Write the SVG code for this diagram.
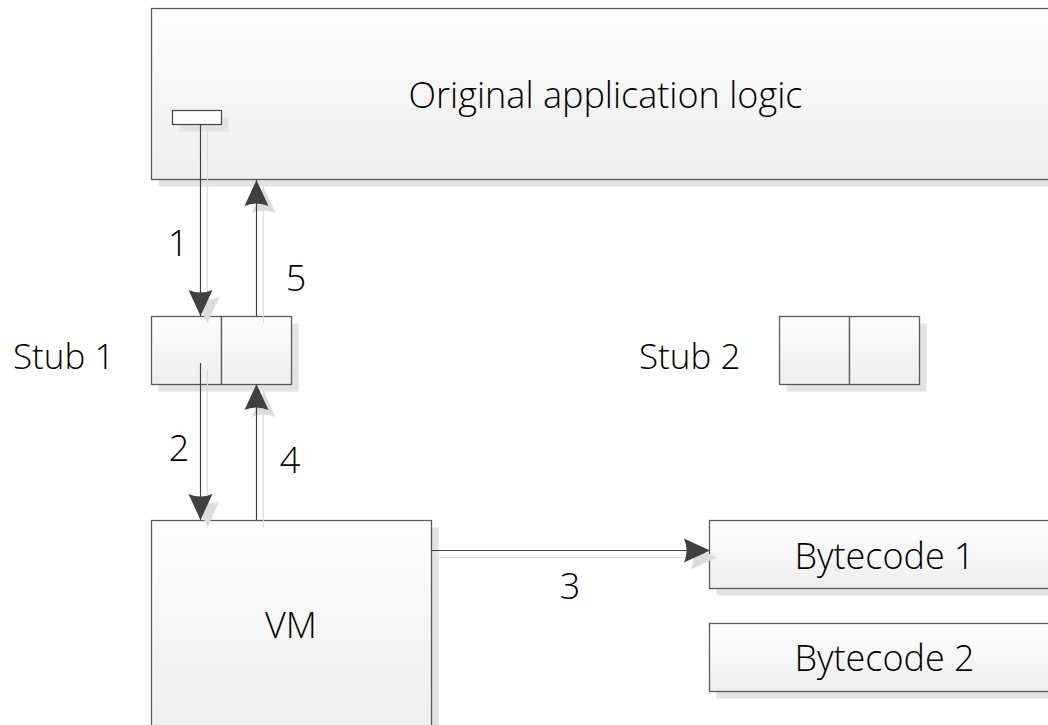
<svg xmlns="http://www.w3.org/2000/svg" width="1048" height="725" viewBox="0 0 1048 725">
<style>
.box{fill:url(#g);stroke:#5a5a5a;stroke-width:1.3}
.sh{fill:#e3e3e3}
.t{font-family:"Open Sans","Liberation Sans",sans-serif;font-weight:300;fill:#000;font-size:36px}
.c{stroke:#404040;stroke-width:1.2;fill:none}
.cs{stroke:#dcdcdc;stroke-width:1.2;fill:none}
</style>
<defs>
<linearGradient id="g" x1="0" y1="0" x2="0" y2="1">
<stop offset="0" stop-color="#fefefe"/>
<stop offset="1" stop-color="#eeeeee"/>
</linearGradient>
<marker id="ah" markerUnits="userSpaceOnUse" viewBox="-27 -13 28 26" refX="0" refY="0" markerWidth="28" markerHeight="26" orient="auto">
<path d="M0,0 L-26,-12 Q-21,0 -26,12 Z" fill="#404040"/>
</marker>
<marker id="ahs" markerUnits="userSpaceOnUse" viewBox="-27 -13 28 26" refX="0" refY="0" markerWidth="28" markerHeight="26" orient="auto">
<path d="M0,0 L-26,-12 Q-21,0 -26,12 Z" fill="#dcdcdc"/>
</marker>
</defs>
<rect width="1048" height="725" fill="#fff"/>
<g id="app">
<rect class="sh" x="158.5" y="15.5" width="920" height="171"/>
<rect class="box" x="151.5" y="8.5" width="920" height="171"/>
<text class="t" x="605.5" y="108" text-anchor="middle">Original application logic</text>
<rect class="sh" x="179.5" y="117.5" width="49" height="14"/>
<rect x="172.5" y="110.5" width="49" height="14" fill="#fdfdfd" stroke="#404040" stroke-width="1.2"/>
</g>
<g id="stub1">
<rect class="sh" x="158.5" y="323.5" width="140" height="68"/>
<rect class="box" x="151.5" y="316.5" width="70" height="68"/>
<rect class="box" x="221.5" y="316.5" width="70" height="68"/>
<text class="t" x="13" y="369" style="font-size:35px">Stub 1</text>
</g>
<g id="stub2">
<rect class="sh" x="786.5" y="323.5" width="140" height="68"/>
<rect class="box" x="779.5" y="316.5" width="70" height="68"/>
<rect class="box" x="849.5" y="316.5" width="70" height="68"/>
<text class="t" x="639" y="369" style="font-size:35px">Stub 2</text>
</g>
<g id="vm">
<rect class="sh" x="158.5" y="527.5" width="280" height="220"/>
<rect class="box" x="151.5" y="520.5" width="280" height="220"/>
<text class="t" x="291" y="638" text-anchor="middle">VM</text>
</g>
<g id="bytecode1">
<rect class="sh" x="716.5" y="527.5" width="360" height="68"/>
<rect class="box" x="709.5" y="520.5" width="360" height="68"/>
<text class="t" x="884.5" y="569" text-anchor="middle">Bytecode 1</text>
</g>
<g id="bytecode2">
<rect class="sh" x="716.5" y="630.5" width="360" height="68"/>
<rect class="box" x="709.5" y="623.5" width="360" height="68"/>
<text class="t" x="884.5" y="671" text-anchor="middle">Bytecode 2</text>
</g>
<g id="connectors">
<line class="cs" x1="207.5" y1="132" x2="207.5" y2="323" marker-end="url(#ahs)"/>
<line class="cs" x1="263.5" y1="323" x2="263.5" y2="187" marker-end="url(#ahs)"/>
<line class="cs" x1="207.5" y1="370" x2="207.5" y2="527" marker-end="url(#ahs)"/>
<line class="cs" x1="263.5" y1="527" x2="263.5" y2="391" marker-end="url(#ahs)"/>
<line class="cs" x1="438" y1="557.5" x2="717" y2="557.5" marker-end="url(#ahs)"/>
<line class="c" x1="200.5" y1="125" x2="200.5" y2="316" marker-end="url(#ah)"/>
<line class="c" x1="256.5" y1="316" x2="256.5" y2="180" marker-end="url(#ah)"/>
<line class="c" x1="200.5" y1="363" x2="200.5" y2="520" marker-end="url(#ah)"/>
<line class="c" x1="256.5" y1="520" x2="256.5" y2="384" marker-end="url(#ah)"/>
<line class="c" x1="431" y1="550.5" x2="710" y2="550.5" marker-end="url(#ah)"/>
<text class="t" x="178" y="256" text-anchor="middle">1</text>
<text class="t" x="296" y="291" text-anchor="middle">5</text>
<text class="t" x="179" y="461" text-anchor="middle">2</text>
<text class="t" x="290" y="473" text-anchor="middle">4</text>
<text class="t" x="570" y="599" text-anchor="middle">3</text>
</g>
</svg>
